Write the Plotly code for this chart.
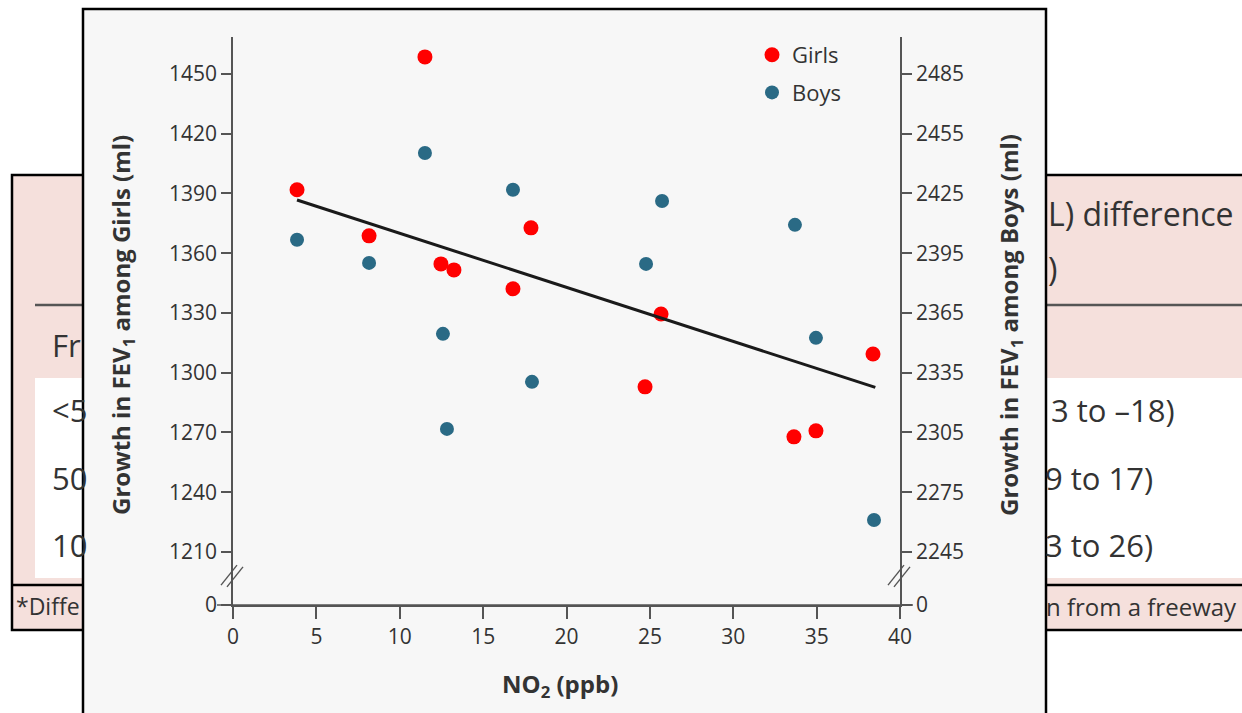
import plotly.graph_objects as go

# ---------------- data ----------------
girls_no2 = [3.84, 8.16, 11.51, 12.47, 13.25, 16.79, 17.87, 24.71, 25.67, 33.64, 34.96, 38.38]
girls_fev = [1391.8, 1368.7, 1458.5, 1354.6, 1351.6, 1342.1, 1372.7, 1292.9, 1329.5, 1267.8, 1270.8, 1309.4]

boys_no2 = [3.84, 8.16, 11.51, 12.59, 12.83, 16.79, 17.93, 24.77, 25.73, 33.70, 34.96, 38.44]
boys_fev = [2401.7, 2390.1, 2445.3, 2354.5, 2306.8, 2426.8, 2330.4, 2389.6, 2421.2, 2409.2, 2352.5, 2261.1]

fit_no2 = [3.84, 38.52]
fit_fev = [1386.7, 1292.6]

x_ticks = [0, 5, 10, 15, 20, 25, 30, 35, 40]
girls_ticks = [1210, 1240, 1270, 1300, 1330, 1360, 1390, 1420, 1450]
boys_ticks = [2245, 2275, 2305, 2335, 2365, 2395, 2425, 2455, 2485]
axis_offset = 1035  # boys axis = girls axis + offset

# ---------------- geometry helpers ----------------
W, H = 1242, 713
L, R, T, B = 233, 900, 37, 605
y_lo, y_hi = 1183.4, 1468.5


def px(xp):
    return (xp - L) / (R - L)


def py(yp):
    return (B - yp) / (B - T)


FONT = "Open Sans, Noto Sans, sans-serif"
TXT = "#333333"
PINK = "#f5e0dc"

fig = go.Figure()
fig.add_trace(go.Scatter(x=boys_no2, y=boys_fev, mode="markers", name="Boys", yaxis="y2",
                         legendgroup="b", marker=dict(color="#2a6a85", size=14), legendrank=2))
fig.add_trace(go.Scatter(x=girls_no2, y=girls_fev, mode="markers", name="Girls",
                         legendgroup="g", marker=dict(color="#ff0000", size=15), legendrank=1))
fig.add_trace(go.Scatter(x=fit_no2, y=fit_fev, mode="lines", showlegend=False,
                         line=dict(color="#1a1a1a", width=3)))

shapes = []
# table background, left
shapes.append(dict(type="rect", xref="paper", yref="paper", x0=px(12), x1=px(90), y0=py(630), y1=py(175),
                   fillcolor=PINK, line=dict(color="black", width=2.5), layer="below"))
shapes.append(dict(type="rect", xref="paper", yref="paper", x0=px(35), x1=px(90), y0=py(578), y1=py(378),
                   fillcolor="white", line=dict(width=0), layer="below"))
shapes.append(dict(type="line", xref="paper", yref="paper", x0=px(35), x1=px(90), y0=py(305), y1=py(305),
                   line=dict(color="#555555", width=2.5), layer="below"))
shapes.append(dict(type="line", xref="paper", yref="paper", x0=px(12), x1=px(90), y0=py(585), y1=py(585),
                   line=dict(color="black", width=2.5), layer="below"))
# table background, right
shapes.append(dict(type="rect", xref="paper", yref="paper", x0=px(1040), x1=px(1250), y0=py(630), y1=py(175),
                   fillcolor=PINK, line=dict(color="black", width=2.5), layer="below"))
shapes.append(dict(type="rect", xref="paper", yref="paper", x0=px(1040), x1=px(1250), y0=py(578), y1=py(378),
                   fillcolor="white", line=dict(width=0), layer="below"))
shapes.append(dict(type="line", xref="paper", yref="paper", x0=px(1040), x1=px(1250), y0=py(305), y1=py(305),
                   line=dict(color="#555555", width=2.5), layer="below"))
shapes.append(dict(type="line", xref="paper", yref="paper", x0=px(1040), x1=px(1250), y0=py(585), y1=py(585),
                   line=dict(color="black", width=2.5), layer="below"))
# chart panel
shapes.append(dict(type="rect", xref="paper", yref="paper", x0=px(83), x1=px(1046), y0=py(730), y1=py(9),
                   fillcolor="#f7f7f7", line=dict(color="black", width=2.5), layer="below"))
# extended baseline
shapes.append(dict(type="line", xref="paper", yref="paper", x0=px(217), x1=px(913), y0=0, y1=0,
                   line=dict(color="#555555", width=1.6)))
# axis break marks
for cx in (L, R):
    for d in (-3, 3):
        shapes.append(dict(type="line", xref="paper", yref="paper",
                           x0=px(cx - 9 + d), x1=px(cx + 7 + d), y0=py(586 + d * 0.3), y1=py(566 + d * 0.3),
                           line=dict(color="#555555", width=1.4)))

annotations = []


def txt(s, x, y, size, xanchor="left", **kw):
    annotations.append(dict(text=s, x=px(x), y=py(y), xref="paper", yref="paper", showarrow=False,
                            xanchor=xanchor, yanchor="middle", font=dict(family=FONT, size=size, color=TXT), **kw))


# table fragments
txt("Fr", 50, 345, 31)
txt("<5", 50, 410, 31)
txt("50", 50, 478, 31)
txt("10", 50, 545, 31)
txt("*Diffe", 14, 606, 23)
txt("L) difference", 1046, 213, 32)
txt(")", 1046, 268, 32)
txt("3 to –18)", 1049, 410, 31)
txt("9 to 17)", 1043, 478, 31)
txt("3 to 26)", 1043, 545, 31)
txt("n from a freeway", 1044, 606, 24)

# axis titles
txt("<b>Growth in FEV<sub>1</sub> among Girls (ml)</b>", 122, 325, 24, xanchor="center", textangle=-90)
txt("<b>Growth in FEV<sub>1</sub> among Boys (ml)</b>", 1010, 325, 24, xanchor="center", textangle=-90)
txt("<b>NO<sub>2</sub> (ppb)</b>", 560, 685, 24, xanchor="center")

tickfont = dict(family=FONT, size=21, color=TXT)

fig.update_layout(
    width=W, height=H,
    margin=dict(l=L, r=W - R, t=T, b=H - B),
    paper_bgcolor="white", plot_bgcolor="#f7f7f7",
    shapes=shapes, annotations=annotations,
    font=dict(family=FONT, color=TXT),
    showlegend=True,
    legend=dict(x=px(752), y=py(34), xanchor="left", yanchor="top", bgcolor="rgba(0,0,0,0)",
                font=dict(family=FONT, size=22, color=TXT), itemwidth=30, tracegroupgap=6),
    xaxis=dict(range=[0, 40], tickvals=x_ticks, showgrid=False, zeroline=False, showline=True,
               linecolor="#555555", linewidth=1.6, ticks="outside", ticklen=12, tickwidth=1.6,
               tickcolor="#555555", tickfont=tickfont),
    yaxis=dict(range=[y_lo, y_hi], tickvals=[y_lo] + girls_ticks,
               ticktext=["0"] + [str(v) for v in girls_ticks],
               showgrid=False, zeroline=False, showline=True, linecolor="#555555", linewidth=1.6,
               ticks="outside", ticklen=10, tickwidth=1.6, tickcolor="#555555", tickfont=tickfont),
    yaxis2=dict(range=[y_lo + axis_offset, y_hi + axis_offset], overlaying="y", side="right",
                tickvals=[y_lo + axis_offset] + boys_ticks,
                ticktext=["0"] + [str(v) for v in boys_ticks],
                showgrid=False, zeroline=False, showline=True, linecolor="#555555", linewidth=1.6,
                ticks="outside", ticklen=10, tickwidth=1.6, tickcolor="#555555", tickfont=tickfont),
)

fig.write_html("out.html", config={"displayModeBar": False},
               post_script="document.body.style.margin='0';document.body.style.overflow='hidden';")
